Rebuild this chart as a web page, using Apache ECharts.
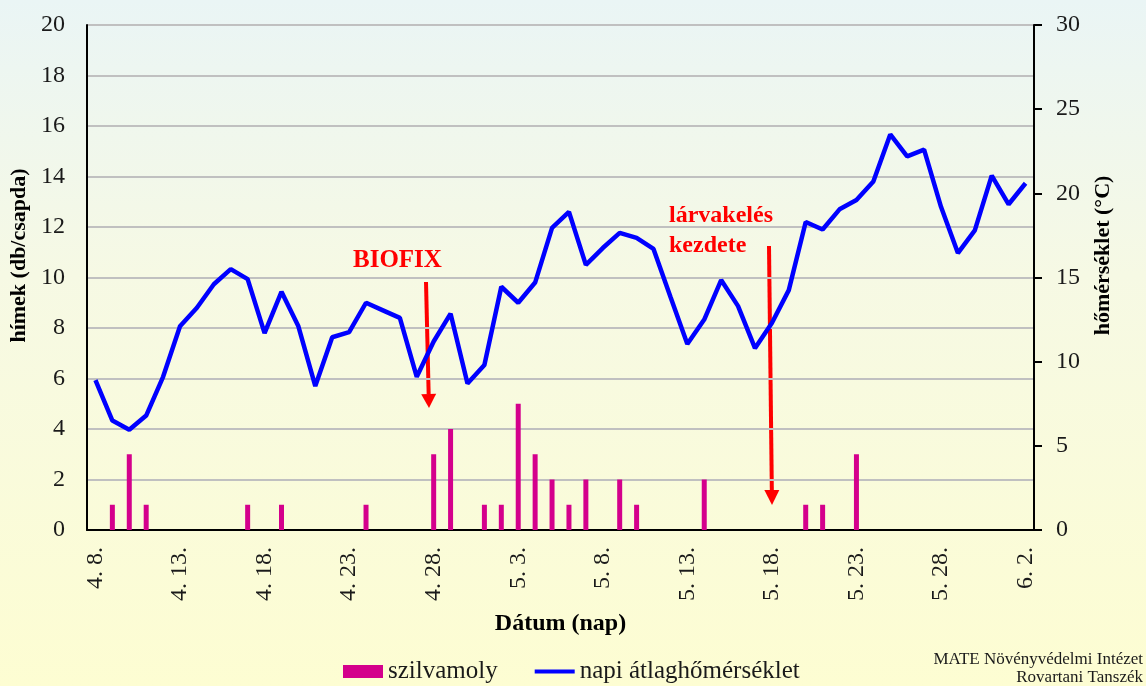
<!DOCTYPE html>
<html>
<head>
<meta charset="utf-8">
<script src="https://cdn.jsdelivr.net/npm/echarts@6/dist/echarts.min.js"></script>
<style>
html,body{margin:0;padding:0;}
#c{width:1146px;height:686px;background:linear-gradient(to bottom,#eaf5f5 0%,#f6f9e4 40%,#fdfdd2 100%);}
</style>
</head>
<body>
<div id="c"></div>
<script>
const dates = ["4. 8.","4. 9.","4. 10.","4. 11.","4. 12.","4. 13.","4. 14.","4. 15.","4. 16.","4. 17.","4. 18.","4. 19.","4. 20.","4. 21.","4. 22.","4. 23.","4. 24.","4. 25.","4. 26.","4. 27.","4. 28.","4. 29.","4. 30.","5. 1.","5. 2.","5. 3.","5. 4.","5. 5.","5. 6.","5. 7.","5. 8.","5. 9.","5. 10.","5. 11.","5. 12.","5. 13.","5. 14.","5. 15.","5. 16.","5. 17.","5. 18.","5. 19.","5. 20.","5. 21.","5. 22.","5. 23.","5. 24.","5. 25.","5. 26.","5. 27.","5. 28.","5. 29.","5. 30.","5. 31.","6. 1.","6. 2."];
const mothCounts = [0,1,3,1,0,0,0,0,0,1,0,1,0,0,0,0,1,0,0,0,3,4,0,1,1,5,3,2,1,2,0,2,1,0,0,0,2,0,0,0,0,0,1,1,0,3,0,0,0,0,0,0,0,0,0,0];
const meanTemp = [8.9,6.5,5.95,6.8,9.1,12.1,13.2,14.6,15.5,14.9,11.7,14.15,12.1,8.55,11.45,11.75,13.5,13.05,12.6,9.1,11.2,12.85,8.7,9.8,14.45,13.5,14.7,17.95,18.9,15.75,16.75,17.65,17.35,16.7,13.85,11.05,12.5,14.85,13.3,10.8,12.3,14.25,18.3,17.85,19.05,19.6,20.7,23.5,22.2,22.6,19.2,16.45,17.8,21.05,19.35,20.6];
const leftTicks = {min:0, max:20, interval:2};
const rightTicks = {min:0, max:30, interval:5};
const seriesNames = ["szilvamoly","napi átlaghőmérséklet"];

const serif = '"Liberation Serif","DejaVu Serif",serif';
const chart = echarts.init(document.getElementById('c'));
const red = '#ff0000';
function arrow(x1,y1,x2,y2,hw,hl){
  const dx=x2-x1, dy=y2-y1, L=Math.sqrt(dx*dx+dy*dy), ux=dx/L, uy=dy/L;
  const bx=x2-ux*hl, by=y2-uy*hl;
  return {type:'group', children:[
    {type:'line', shape:{x1:x1,y1:y1,x2:bx,y2:by}, style:{stroke:red,lineWidth:4}},
    {type:'polygon', shape:{points:[[x2,y2],[bx-uy*hw,by+ux*hw],[bx+uy*hw,by-ux*hw]]}, style:{fill:red}}
  ]};
}
chart.setOption({
  animation:false,
  textStyle:{fontFamily:serif},
  grid:{left:87,right:112,top:25,bottom:156},
  legend:{
    left:343, top:659, padding:0, itemGap:35, itemWidth:40, itemHeight:13,
    textStyle:{fontFamily:serif,fontSize:25,color:'#1a1a1a'},
    data:[{name:seriesNames[0],icon:'rect'},{name:seriesNames[1],itemStyle:{opacity:0},lineStyle:{width:4,color:'#0000ff'}}]
  },
  xAxis:[{
    type:'category', data:dates, boundaryGap:true,
    axisLine:{lineStyle:{color:'#000',width:2}},
    axisTick:{interval:0,length:5,lineStyle:{color:'#000',width:1.5}},
    axisLabel:{interval:4,rotate:90,margin:17,fontSize:24,color:'#1a1a1a',fontFamily:serif},
    name:'Dátum (nap)', nameLocation:'middle', nameGap:82,
    nameTextStyle:{fontFamily:serif,fontSize:24,fontWeight:'bold',color:'#000'}
  },{
    type:'category', data:dates, boundaryGap:true, position:'bottom',
    axisLine:{show:false},
    axisTick:{interval:4,length:9,lineStyle:{color:'#000',width:1.5}},
    axisLabel:{show:false}
  }],
  yAxis:[{
    type:'value', min:leftTicks.min, max:leftTicks.max, interval:leftTicks.interval, position:'left',
    axisLine:{show:true,lineStyle:{color:'#000',width:2}},
    axisTick:{show:false},
    axisLabel:{margin:22,fontSize:24,color:'#1a1a1a',fontFamily:serif},
    splitLine:{lineStyle:{color:'#c0c0c0',width:2}},
    name:'hímek (db/csapda)', nameLocation:'middle', nameGap:54, nameRotate:90,
    nameTextStyle:{fontFamily:serif,fontSize:22,fontWeight:'bold',color:'#000',padding:[0,0,0,44]}
  },{
    type:'value', min:rightTicks.min, max:rightTicks.max, interval:rightTicks.interval, position:'right',
    axisLine:{show:true,lineStyle:{color:'#000',width:2}},
    axisTick:{show:true,inside:false,length:8,lineStyle:{color:'#000',width:2}},
    axisLabel:{margin:22,fontSize:24,color:'#1a1a1a',fontFamily:serif},
    splitLine:{show:false},
    name:'hőmérséklet (°C)', nameLocation:'middle', nameGap:58, nameRotate:90,
    nameTextStyle:{fontFamily:serif,fontSize:22,fontWeight:'bold',color:'#000',padding:[0,0,0,44]}
  }],
  series:[{
    name:seriesNames[0], type:'bar', xAxisIndex:0, yAxisIndex:0, data:mothCounts,
    barWidth:5, itemStyle:{color:'#d4008c'}, z:2
  },{
    name:seriesNames[1], type:'line', xAxisIndex:0, yAxisIndex:1, data:meanTemp,
    symbol:'none', lineStyle:{color:'#0000ff',width:4.5}, itemStyle:{color:'#0000ff'}, z:3
  }],
  graphic:[
    {type:'text', left:353, top:248, style:{text:'BIOFIX', font:'bold 25px '+serif, fill:red}},
    arrow(426,282,429,408,7.5,14),
    {type:'text', left:669, top:201, style:{text:'lárvakelés\nkezdete', font:'bold 24px '+serif, fill:red, lineHeight:30}},
    arrow(769,246,772,505,7.5,15),
    {type:'text', x:1143, y:651, style:{text:'MATE Növényvédelmi Intézet\nRovartani Tanszék', font:'17px '+serif, fill:'#1a1a1a', align:'right', lineHeight:18}}
  ]
});
</script>
</body>
</html>
